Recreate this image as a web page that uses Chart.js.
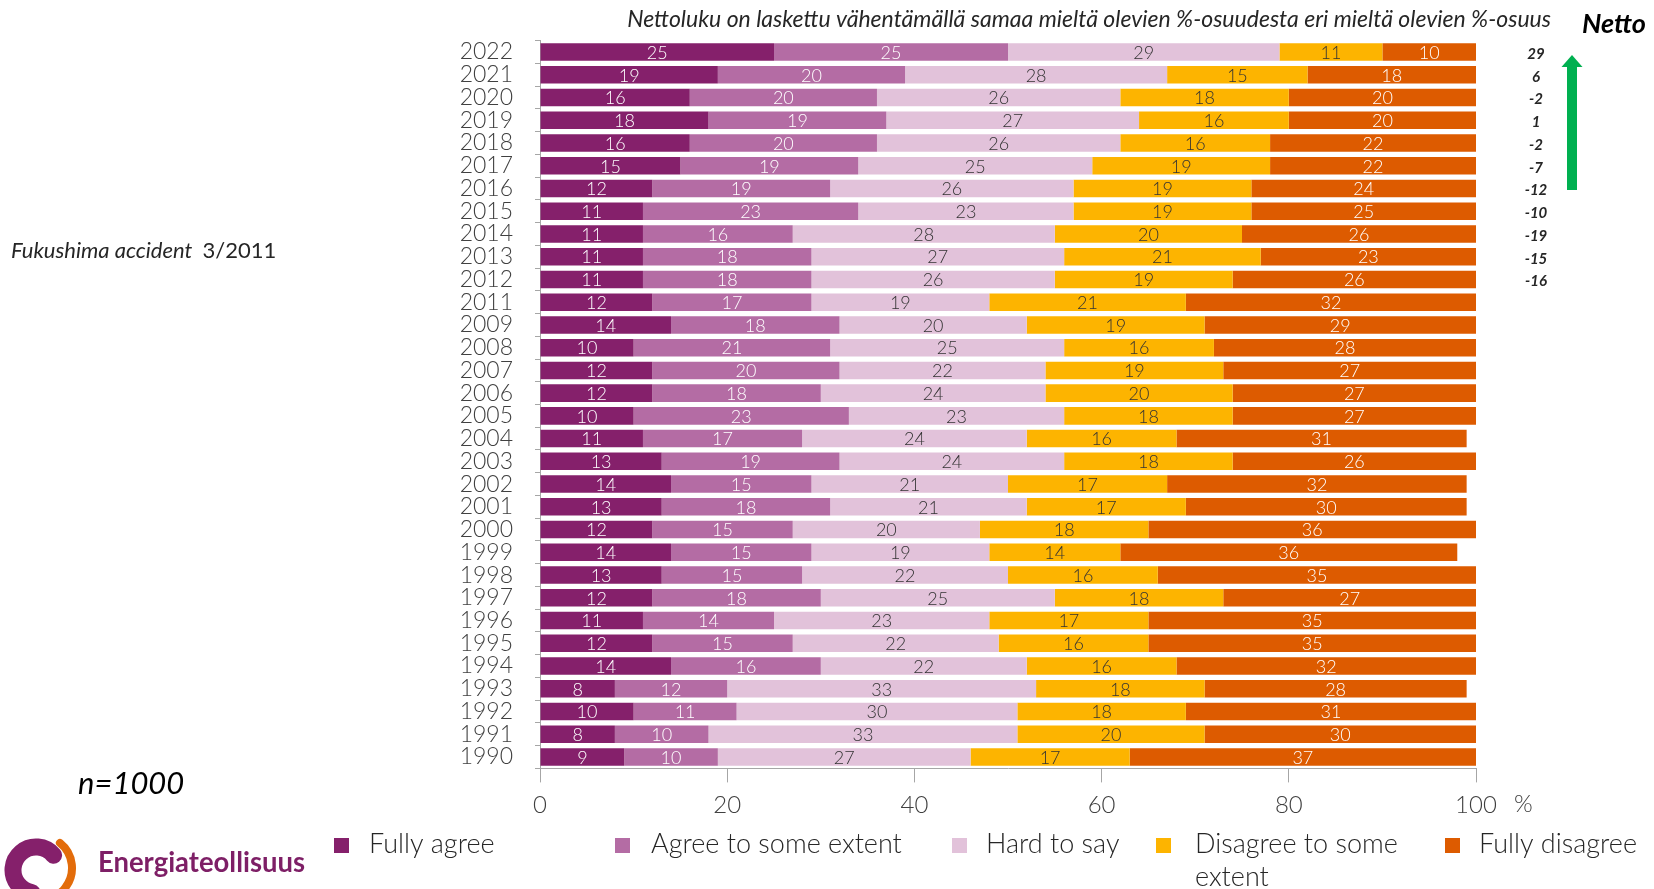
<!DOCTYPE html>
<html>
<head>
<meta charset="utf-8">
<script src="https://cdn.jsdelivr.net/npm/chart.js@4.4.1/dist/chart.umd.min.js"></script>
<style>
  html, body { margin: 0; padding: 0; background: #fff; }
  #wrap { width: 1654px; height: 889px; }
</style>
</head>
<body>
<div id="wrap"><canvas id="opinion-chart" width="1654" height="889"></canvas></div>
<script>
// survey years, newest first (no 2010 survey)
var years = ["2022", "2021", "2020", "2019", "2018", "2017", "2016", "2015", "2014", "2013", "2012",
    "2011", "2009", "2008", "2007", "2006", "2005", "2004", "2003", "2002", "2001", "2000",
    "1999", "1998", "1997", "1996", "1995", "1994", "1993", "1992", "1991", "1990"];

var fullyAgree     = [25, 19, 16, 18, 16, 15, 12, 11, 11, 11, 11, 12, 14, 10, 12, 12, 10, 11, 13, 14, 13, 12, 14, 13, 12, 11, 12, 14, 8, 10, 8, 9];
var agreeSome      = [25, 20, 20, 19, 20, 19, 19, 23, 16, 18, 18, 17, 18, 21, 20, 18, 23, 17, 19, 15, 18, 15, 15, 15, 18, 14, 15, 16, 12, 11, 10, 10];
var hardToSay      = [29, 28, 26, 27, 26, 25, 26, 23, 28, 27, 26, 19, 20, 25, 22, 24, 23, 24, 24, 21, 21, 20, 19, 22, 25, 23, 22, 22, 33, 30, 33, 27];
var disagreeSome   = [11, 15, 18, 16, 16, 19, 19, 19, 20, 21, 19, 21, 19, 16, 19, 20, 18, 16, 18, 17, 17, 18, 14, 16, 18, 17, 16, 16, 18, 18, 20, 17];
var fullyDisagree  = [10, 18, 20, 20, 22, 22, 24, 25, 26, 23, 26, 32, 29, 28, 27, 27, 27, 31, 26, 32, 30, 36, 36, 35, 27, 35, 35, 32, 28, 31, 30, 37];

// net figure (agree % minus disagree %) for the latest years
var netto = [29, 6, -2, 1, -2, -7, -12, -10, -19, -15, -16];

var seriesNames  = ["Fully agree", "Agree to some extent", "Hard to say", "Disagree to some extent", "Fully disagree"];
var seriesColors = ["#85206B", "#B46CA4", "#E2C2DA", "#FDB400", "#DD5B00"];
var labelColors  = ["#ffffff", "#ffffff", "#333333", "#333333", "#ffffff"];

var FONT = "Lato, 'Open Sans', sans-serif";

var seriesValues = [fullyAgree, agreeSome, hardToSay, disagreeSome, fullyDisagree];
var datasets = seriesValues.map(function (vals, i) {
    return {
        label: seriesNames[i],
        data: vals,
        backgroundColor: seriesColors[i],
        borderWidth: 0,
        barPercentage: 0.77,
        categoryPercentage: 1
    };
});

// numbers inside each bar segment
var segmentLabels = {
    id: 'segmentLabels',
    afterDatasetsDraw: function (chart) {
        var ctx = chart.ctx;
        var area = chart.chartArea;
        ctx.save();
        ctx.font = "300 18px " + FONT;
        ctx.textAlign = 'center';
        ctx.textBaseline = 'middle';
        chart.data.datasets.forEach(function (ds, di) {
            var meta = chart.getDatasetMeta(di);
            ctx.fillStyle = labelColors[di];
            meta.data.forEach(function (bar, i) {
                var x1 = Math.min(bar.base, area.right);
                var x2 = Math.min(bar.x, area.right);
                ctx.fillText(String(ds.data[i]), (x1 + x2) / 2, bar.y + 1);
            });
        });
        ctx.restore();
    }
};

function wrapWords(ctx, text, maxW) {
    var words = text.split(' ');
    var lines = [];
    var line = '';
    words.forEach(function (w) {
        var test = line ? line + ' ' + w : w;
        if (line && ctx.measureText(test).width > maxW) {
            lines.push(line);
            line = w;
        } else {
            line = test;
        }
    });
    lines.push(line);
    return lines;
}

// titles, net column, arrow, notes, legend and logo
var decorations = {
    id: 'decorations',
    afterDraw: function (chart) {
        var ctx = chart.ctx;
        var yScale = chart.scales.y;
        var xScale = chart.scales.x;
        ctx.save();

        ctx.fillStyle = '#262626';
        ctx.textBaseline = 'middle';
        ctx.textAlign = 'right';
        ctx.font = "italic 23px " + FONT;
        ctx.fillText("Nettoluku on laskettu vähentämällä samaa mieltä olevien %-osuudesta eri mieltä olevien %-osuus", 1551, 20);

        ctx.fillStyle = '#000';
        ctx.textAlign = 'left';
        ctx.font = "italic bold 27px " + FONT;
        ctx.fillText("Netto", 1582, 24);

        ctx.fillStyle = '#262626';
        ctx.textAlign = 'center';
        ctx.font = "italic bold 15px " + FONT;
        netto.forEach(function (v, i) {
            ctx.fillText(String(v), 1536, yScale.getPixelForValue(i) + 2);
        });

        // green arrow
        ctx.fillStyle = '#00B050';
        ctx.fillRect(1567, 66, 10, 124);
        ctx.beginPath();
        ctx.moveTo(1561.5, 67);
        ctx.lineTo(1572, 55);
        ctx.lineTo(1582.5, 67);
        ctx.closePath();
        ctx.fill();

        // note on the left
        ctx.fillStyle = '#262626';
        ctx.textAlign = 'left';
        ctx.font = "italic 22px " + FONT;
        var note = "Fukushima accident";
        ctx.fillText(note, 11, 251);
        var nw = ctx.measureText(note + "  ").width;
        ctx.font = "22px " + FONT;
        ctx.fillText("3/2011", 11 + nw, 251);

        ctx.fillStyle = '#000';
        ctx.font = "italic 31px " + FONT;
        ctx.fillText("n=1000", 78, 784);

        // unit after the last tick
        ctx.fillStyle = '#404040';
        ctx.font = "300 24px " + FONT;
        ctx.fillText("%", xScale.getPixelForValue(100) + 38, 804);

        // legend
        var legendX = [334, 615, 952, 1156, 1445];
        var textX = [369, 651, 986, 1195, 1479];
        ctx.font = "300 27px " + FONT;
        seriesNames.forEach(function (name, i) {
            ctx.fillStyle = seriesColors[i];
            ctx.fillRect(legendX[i], 838, 15, 15);
            ctx.fillStyle = '#262626';
            var maxW = (i < seriesNames.length - 1 ? legendX[i + 1] : 1654) - textX[i] - 10;
            var lines = wrapWords(ctx, name, maxW);
            lines.forEach(function (ln, k) {
                ctx.fillText(ln, textX[i], 844 + k * 33);
            });
        });

        // company logo
        ctx.lineCap = 'round';
        ctx.strokeStyle = '#E36C0A';
        ctx.lineWidth = 8;
        ctx.beginPath();
        ctx.arc(40, 868, 32, -0.9, 1.9);
        ctx.stroke();
        ctx.strokeStyle = '#85206B';
        ctx.lineWidth = 17;
        ctx.beginPath();
        ctx.arc(36, 870, 23, -0.7, 1.75, true);
        ctx.stroke();

        ctx.fillStyle = '#7E1F66';
        ctx.textAlign = 'left';
        ctx.textBaseline = 'alphabetic';
        ctx.font = "bold 29px " + FONT;
        ctx.fillText("Energiateollisuus", 98, 872, 207);

        ctx.restore();
    }
};

var chart = new Chart(document.getElementById('opinion-chart'), {
    type: 'bar',
    data: { labels: years, datasets: datasets },
    plugins: [segmentLabels, decorations],
    options: {
        indexAxis: 'y',
        responsive: false,
        animation: false,
        layout: { padding: { top: 40.6, right: 178, bottom: 0, left: 0 } },
        plugins: {
            legend: { display: false },
            tooltip: { enabled: false }
        },
        scales: {
            x: {
                stacked: true,
                min: 0,
                max: 100,
                afterFit: function (scale) { scale.height = 120.6; },
                ticks: { stepSize: 20, padding: 8, color: '#404040', font: { family: FONT, size: 24, weight: '300' } },
                grid: { drawOnChartArea: false, tickLength: 14, color: '#a6a6a6' },
                border: { color: '#a6a6a6' }
            },
            y: {
                stacked: true,
                afterFit: function (scale) { scale.width = 540; },
                ticks: { autoSkip: false, padding: 22, color: '#404040', font: { family: FONT, size: 23, weight: '300' } },
                grid: { drawOnChartArea: false, offset: true, tickLength: 5, color: '#a6a6a6' },
                border: { color: '#a6a6a6' }
            }
        }
    }
});
</script>
</body>
</html>
